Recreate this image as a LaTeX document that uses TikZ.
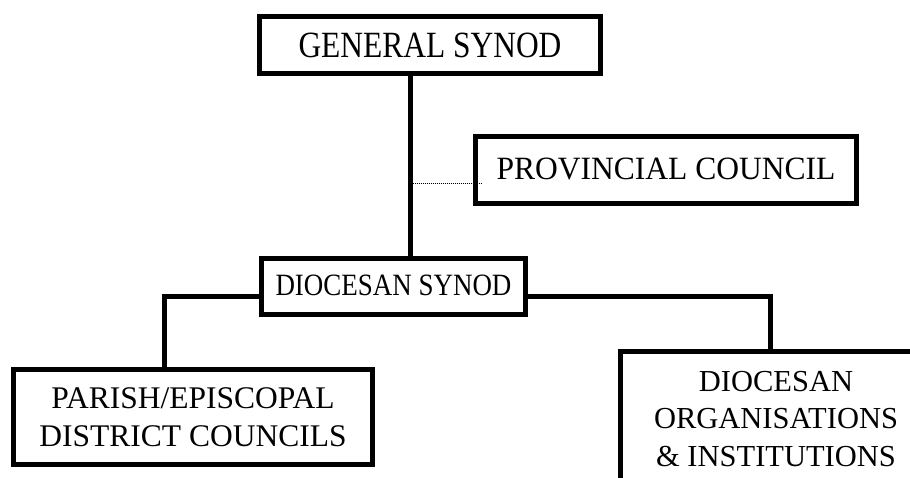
\documentclass[tikz,border=0pt]{standalone}
\usepackage{fontspec}
\setmainfont{Liberation Serif}
\usepackage{graphicx}
\usepackage{tikz}

\begin{document}
\begin{tikzpicture}[x=1pt,y=-1pt,
  unit/.style={draw, line width=5pt, fill=white, align=center, inner sep=0pt,
    font=\fontsize{31.5}{37.5}\selectfont},
  link/.style={line width=5pt}]
 \useasboundingbox (0,0) rectangle (910,477);
 \clip (0,0) rectangle (910,477);

\node [unit, minimum width=341, minimum height=57, font=\fontsize{37}{43}\selectfont] (gen) at (430,45)
  {\raisebox{-3pt}{\scalebox{0.85}[1]{GENERAL SYNOD}}};
\node [unit, minimum width=381, minimum height=67, font=\fontsize{32.5}{38}\selectfont] (prov) at (666,170)
  {\raisebox{2pt}{\scalebox{0.97}[1]{PROVINCIAL COUNCIL}}};
\node [unit, minimum width=264, minimum height=56, font=\fontsize{31}{37}\selectfont] (dsyn) at (393.5,286.5)
  {\raisebox{2pt}{\scalebox{0.87}[1]{DIOCESAN SYNOD}}};
\node [unit, minimum width=359, minimum height=95] (parish) at (193,417) {PARISH/EPISCOPAL\\DISTRICT COUNCILS};
\node [unit, minimum width=312, minimum height=136, font=\fontsize{30.5}{37.5}\selectfont] (dorg) at (776,419)
  {DIOCESAN\\ORGANISATIONS\\\& INSTITUTIONS};

\coordinate (tap) at ([xshift=-19.5pt]gen.south);
\coordinate (pdot) at ([xshift=9.5pt,yshift=-13.3pt]prov.west);
\draw [link] (tap) -- (tap |- dsyn.north);
\draw [link] ([yshift=-9.5pt]dsyn.west) -| ([xshift=-28.5pt]parish.north);
\draw [link] ([yshift=-9.5pt]dsyn.east) -| ([xshift=-5.3pt]dorg.north);
\draw [line width=1.2pt, dash pattern=on 1pt off 1pt] (tap |- pdot) -- (pdot);
%\draw [link] (gen.east) -| (prov.north);
\end{tikzpicture}
\end{document}
